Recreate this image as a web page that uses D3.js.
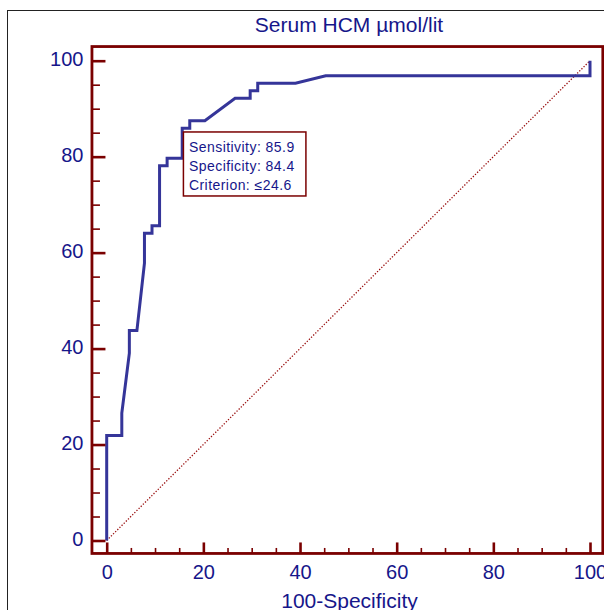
<!DOCTYPE html>
<html>
<head>
<meta charset="utf-8">
<script src="https://cdn.jsdelivr.net/npm/d3@7"></script>
<style>
  html, body { margin: 0; padding: 0; background: #fff; overflow: hidden; }
  svg { display: block; font-family: "Liberation Sans", Arial, sans-serif; }
</style>
</head>
<body>
<svg id="chart" width="604" height="610"></svg>
<script>
// ---- data ----
const title = "Serum HCM µmol/lit";
const xLabel = "100-Specificity";
const majorTicks = [0, 20, 40, 60, 80, 100];
const minorTicks = [5, 10, 15, 25, 30, 35, 45, 50, 55, 65, 70, 75, 85, 90, 95];
// ROC curve: 100-Specificity
const rocX = [0, 0, 3.125, 3.125, 4.6875, 4.6875, 6.25, 7.8125, 7.8125, 9.375, 9.375, 10.9375, 10.9375,
  12.5, 12.5, 15.625, 15.625, 17.1875, 17.1875, 20.3125, 26.5625, 29.6875, 29.6875, 31.25, 31.25,
  39.0625, 45.3125, 100, 100];
// ROC curve: Sensitivity
const rocY = [0, 21.875, 21.875, 26.5625, 39.0625, 43.75, 43.75, 57.8125, 64.0625, 64.0625, 65.625, 65.625, 78.125,
  78.125, 79.6875, 79.6875, 85.9375, 85.9375, 87.5, 87.5, 92.1875, 92.1875, 93.75, 93.75, 95.3125,
  95.3125, 96.875, 96.875, 100];
const diagX = [0, 100];
const diagY = [0, 100];
const criterionPoint = [15.625, 85.9375];
const annotationLines = ["Sensitivity: 85.9", "Specificity: 84.4", "Criterion: \u226424.6"];

// ---- drawing ----
const svg = d3.select("#chart");
const maroon = "#7a0000";
const navy = "#16168a";
const curveColor = "#353599";

const x = d3.scaleLinear().domain([0, 100]).range([106.7, 590]);
const y = d3.scaleLinear().domain([0, 100]).range([540.5, 60.7]);

// outer border
svg.append("rect")
  .attr("x", 7.5).attr("y", 10.5).attr("width", 700).attr("height", 700)
  .attr("fill", "none").attr("stroke", "#222").attr("stroke-width", 1);

// title
svg.append("text")
  .attr("x", 349).attr("y", 31.5)
  .attr("text-anchor", "middle")
  .attr("font-size", 21).attr("fill", navy)
  .text(title);

const frameX0 = x(-3.05), frameX1 = x(102.65);
const frameY0 = y(102.95), frameY1 = y(-2.7);

// diagonal reference line
const line = d3.line().x(d => x(d[0])).y(d => y(d[1]));
svg.append("path")
  .attr("d", line(diagX.map((v, i) => [v, diagY[i]])))
  .attr("fill", "none").attr("stroke", "#9a1010").attr("stroke-width", 1.3)
  .attr("stroke-dasharray", "1.3 1.7");

// ROC curve
svg.append("path")
  .attr("d", line(rocX.map((v, i) => [v, rocY[i]])))
  .attr("fill", "none").attr("stroke", curveColor).attr("stroke-width", 3)
  .attr("stroke-linejoin", "miter");

// axes (ticks inward)
const bottomMajor = d3.axisBottom(x).tickValues(majorTicks).tickSize(-11).tickPadding(11).tickFormat(d3.format("d"));
const bottomMinor = d3.axisBottom(x).tickValues(minorTicks).tickSize(-5.5).tickFormat("");
const leftMajor = d3.axisLeft(y).tickValues(majorTicks).tickSize(-13.5).tickPadding(8.5).tickFormat(d3.format("d"));
const leftMinor = d3.axisLeft(y).tickValues(minorTicks).tickSize(-8).tickFormat("");

function styleAxis(g, w) {
  g.select(".domain").remove();
  g.selectAll(".tick line").attr("stroke", maroon).attr("stroke-width", w);
  g.selectAll(".tick text").attr("fill", navy).attr("font-size", 20)
    .attr("font-family", "\"Liberation Sans\", Arial, sans-serif");
}

svg.append("g").attr("transform", `translate(0,${frameY1})`).call(bottomMinor).call(g => styleAxis(g, 1.6));
svg.append("g").attr("transform", `translate(0,${frameY1})`).call(bottomMajor).call(g => styleAxis(g, 2.6))
  .selectAll(".tick text").attr("dy", "0.71em");
svg.append("g").attr("transform", `translate(${frameX0},0)`).call(leftMinor).call(g => styleAxis(g, 1.6));
svg.append("g").attr("transform", `translate(${frameX0},0)`).call(leftMajor).call(g => styleAxis(g, 2.6))
  .selectAll(".tick text").attr("dy", "0.25em");

// frame
svg.append("rect")
  .attr("x", frameX0).attr("y", frameY0)
  .attr("width", frameX1 - frameX0).attr("height", frameY1 - frameY0)
  .attr("fill", "none").attr("stroke", maroon).attr("stroke-width", 2.8);

// x label
svg.append("text")
  .attr("x", 349.5).attr("y", 608)
  .attr("text-anchor", "middle")
  .attr("font-size", 21).attr("fill", navy)
  .text(xLabel);

// annotation box
const bx = x(criterionPoint[0]) + 1.2, by = y(criterionPoint[1]) + 3.8;
const ann = svg.append("g").attr("transform", `translate(${bx},${by})`);
ann.append("rect").attr("x", 0).attr("y", 0).attr("width", 122.5).attr("height", 64)
  .attr("fill", "#fff").attr("stroke", maroon).attr("stroke-width", 1.5);
ann.selectAll("text").data(annotationLines).join("text")
  .attr("x", 5.5).attr("y", (d, i) => 20.5 + i * 19)
  .attr("font-size", 14).attr("letter-spacing", 0.45).attr("fill", navy)
  .text(d => d);
</script>
</body>
</html>
